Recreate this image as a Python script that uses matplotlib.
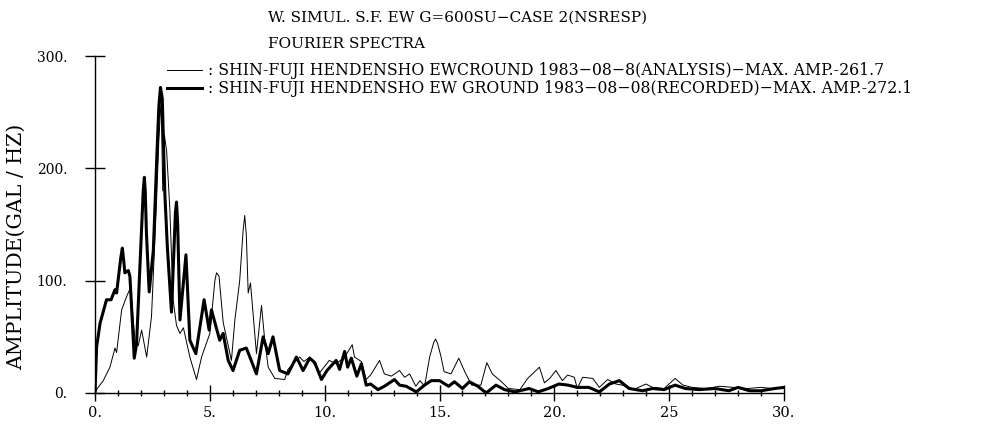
import numpy as np
import matplotlib
matplotlib.use("Agg")
import matplotlib.pyplot as plt

plt.rcParams["font.family"] = ["DejaVu Serif"]
plt.rcParams["axes.unicode_minus"] = True

# 解析 (thin line)
f_ana = [0, 0.1, 0.36, 0.65, 0.87, 0.94, 1.16, 1.38, 1.55, 1.74, 1.88, 2.03, 2.25, 2.46, 2.68, 2.78,
         2.88, 2.95, 3.02, 3.12, 3.26, 3.4, 3.55, 3.7, 3.85, 4.13, 4.42, 4.64, 5.0, 5.22, 5.29, 5.4, 5.58,
         5.94, 6.09, 6.3, 6.45, 6.52, 6.59, 6.67, 6.77, 7.03, 7.25, 7.39, 7.54, 7.83, 8.26, 8.4, 8.91, 9.1, 9.35,
         9.78, 10.2, 10.5, 10.87, 11.2, 11.3, 11.6, 11.8, 12.0, 12.39, 12.6, 12.9, 13.26, 13.48, 13.7,
         13.97, 14.15, 14.35, 14.57, 14.75, 14.83, 14.92, 15.07, 15.2, 15.5, 15.84, 16.1, 16.4, 16.8, 17.06, 17.3,
         17.7, 18.0, 18.5, 18.84, 19.35, 19.57, 19.8, 20.07, 20.35, 20.58, 20.87, 21.0, 21.23, 21.67,
         21.96, 22.32, 22.68, 22.97, 23.26, 23.55, 23.99, 24.28, 24.78, 25.26, 25.6, 26.0, 26.6, 27.2,
         27.8, 28.4, 29.0, 29.5, 30.0]
a_ana = [0, 4, 11, 23, 40, 36, 74, 86, 94, 47, 42, 56, 32, 68, 171, 225,
         262, 180, 230, 215, 163, 83, 60, 53, 58, 32, 12, 32, 53, 100, 107, 104, 63,
         29, 65, 100, 145, 158, 140, 89, 98, 35, 78, 47, 23, 13, 12, 21, 32, 28, 32,
         18, 29, 26, 32, 43, 32, 28, 12, 16, 29, 17, 15, 20, 14, 17,
         6, 11, 6, 32, 45, 48, 44, 32, 19, 17, 31, 19, 7, 7, 27, 17,
         10, 4, 3, 13, 23, 9, 13, 20, 11, 16, 14, 4, 14, 13,
         5, 12, 8, 7, 4, 4, 8, 5, 4, 13, 7, 5, 4, 6,
         5, 4, 5, 4, 5]

# 記録 (thick line)
f_rec = [0, 0.07, 0.22, 0.5, 0.7, 0.87, 0.94, 1.12, 1.19, 1.25, 1.3, 1.45, 1.52, 1.71, 1.81, 2.1, 2.15,
         2.19, 2.24, 2.36, 2.54, 2.7, 2.78, 2.85, 2.93, 3.04, 3.15, 3.33, 3.5, 3.55, 3.6, 3.7, 3.96,
         4.13, 4.39, 4.75, 4.97, 5.07, 5.43, 5.58,
         5.8, 6.01, 6.3, 6.59, 7.03, 7.32, 7.54, 7.75, 8.04, 8.4, 8.77, 9.06, 9.35, 9.57, 9.86, 10.1,
         10.5, 10.65, 10.87, 11.0, 11.16, 11.4, 11.6, 11.81, 12.0, 12.32, 12.6, 13.04, 13.26, 13.55,
         13.99, 14.35, 14.64, 15.0, 15.4, 15.65, 16.0, 16.3, 16.67, 17.03, 17.46, 17.83, 18.3, 18.9,
         19.3, 19.74, 20.2, 20.6, 21.0, 21.5, 21.96, 22.4, 22.83, 23.26, 23.84, 24.28, 24.78, 25.26,
         25.7, 26.3, 27.0, 27.6, 28.0, 28.5, 29.0, 29.6, 30.0]
a_rec = [0, 41, 62, 83, 83, 92, 89, 120, 129, 118, 107, 109, 104, 31, 44, 180, 192,
         178, 142, 90, 127, 215, 255, 272, 262, 178, 130, 72, 160, 170, 150, 65, 123,
         47, 35, 83, 56, 74, 47, 53,
         29, 20, 38, 40, 17, 50, 35, 50, 20, 17, 32, 20, 31, 27, 12, 20,
         29, 21, 37, 23, 31, 15, 26, 7, 8, 3, 6, 12, 7, 6,
         1, 7, 11, 11, 6, 10, 4, 10, 6, 0, 7, 3, 1, 4,
         1, 4, 8, 7, 5, 5, 1, 8, 11, 4, 2, 4, 3, 7,
         4, 3, 4, 2, 5, 2, 2, 4, 5]

x_ticks = [0, 5, 10, 15, 20, 25, 30]
x_labels = ["0.", "5.", "10.", "15.", "20.", "25", "30."]
y_ticks = [0, 100, 200, 300]
y_labels = ["0.", "100.", "200.", "300."]

title1 = "W. SIMUL. S.F. EW G=600SU\u2212CASE 2(NSRESP)"
title2 = "FOURIER SPECTRA"
lab_ana = ": SHIN-FUJI HENDENSHO EWCROUND 1983\u221208\u22128(ANALYSIS)\u2212MAX. AMP.-261.7"
lab_rec = ": SHIN-FUJI HENDENSHO EW GROUND 1983\u221208\u221208(RECORDED)\u2212MAX. AMP.-272.1"

fig = plt.figure(figsize=(9.82, 4.3), dpi=100)
ax = fig.add_axes([95/982, 37/430, 689/982, 337/430])

l1, = ax.plot(f_ana, a_ana, color="black", lw=0.7)
l2, = ax.plot(f_rec, a_rec, color="black", lw=2.2, solid_joinstyle="round")

ax.set_xlim(0, 30)
ax.set_ylim(0, 300)
for s in ["top", "right"]:
    ax.spines[s].set_visible(False)
ax.spines["left"].set_linewidth(1.0)
ax.spines["bottom"].set_linewidth(1.0)

ax.set_xticks(x_ticks)
ax.set_xticklabels(x_labels)
ax.set_xticks(np.arange(0, 31, 1), minor=True)
ax.set_yticks(y_ticks)
ax.set_yticklabels(y_labels)
ax.tick_params(axis="x", which="major", direction="inout", length=11, width=1, pad=4, labelsize=10.5)
ax.tick_params(axis="x", which="minor", direction="inout", length=5, width=1)
ax.tick_params(axis="y", which="major", direction="inout", length=14, width=1, pad=13, labelsize=10)

ax.set_ylabel("AMPLITUDE(GAL / HZ)", fontsize=14.8)
ax.yaxis.set_label_coords(-0.101, 0.433)

fig.text(268/982, 1 - 18/430, title1, fontsize=11, va="center", ha="left")
fig.text(268/982, 1 - 44/430, title2, fontsize=11, va="center", ha="left")

ax.legend([l1, l2], [lab_ana, lab_rec], loc="upper left",
          bbox_to_anchor=(167/982, 1 - 62/430), bbox_transform=fig.transFigure,
          frameon=False, fontsize=11.3, handlelength=2.2, handletextpad=0.4,
          labelspacing=0.08, borderpad=0, borderaxespad=0)

fig.savefig("out.png", dpi=100)
